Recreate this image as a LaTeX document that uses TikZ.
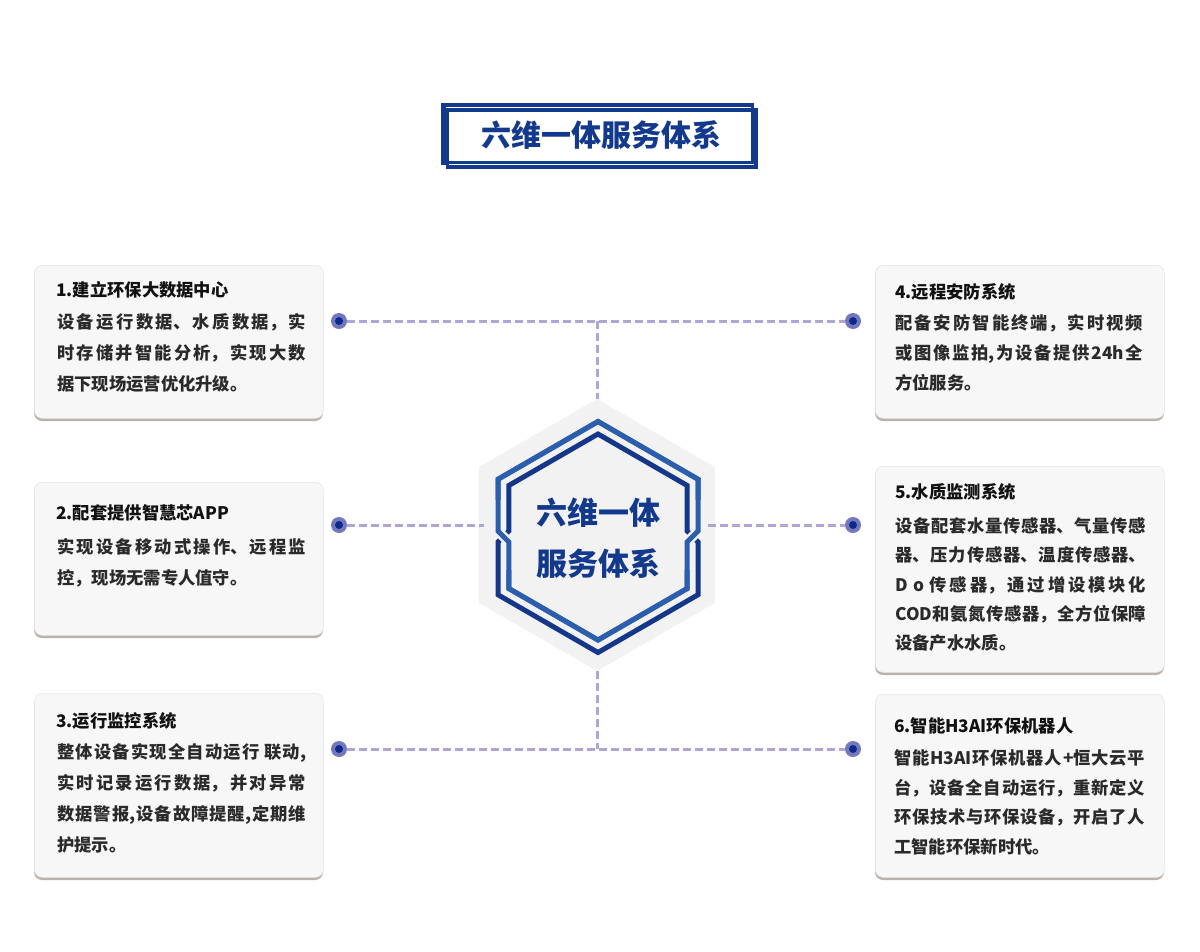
\documentclass[tikz,border=0pt]{standalone}
\usepackage{fontspec}
\setmainfont{Noto Sans CJK SC}
\XeTeXlinebreaklocale "zh"
\XeTeXlinebreakskip=0pt plus 4pt minus 0.6pt
\definecolor{navy}{HTML}{12398C}
\definecolor{hexlight}{HTML}{2B5FAE}
\definecolor{hexdark}{HTML}{14378A}
\definecolor{hexbg}{HTML}{F3F2F2}
\definecolor{cardbg}{HTML}{F7F7F7}
\definecolor{cardedge}{HTML}{E6E6E6}
\definecolor{shadowc}{HTML}{BAB2AD}
\definecolor{dashc}{HTML}{8F8CCB}
\definecolor{dotring}{HTML}{7477BD}
\definecolor{dotcore}{HTML}{0B2A8A}
\definecolor{titlec}{HTML}{111111}
\definecolor{bodyc}{HTML}{2A2A2A}
\newcommand\cardtext[3]{\parbox[t]{#1}{\fontsize{17.3pt}{#2}\selectfont #3}}
\begin{document}
\begin{tikzpicture}[x=1pt,y=-1pt,
  card/.style={fill=cardbg, draw=cardedge, line width=0.6pt, rounded corners=8pt,
    inner sep=0pt, minimum width=289pt, anchor=north west},
  cardshadow/.style={fill=shadowc, rounded corners=8pt},
  cardtitle/.style={anchor=base west, inner sep=0pt, text=titlec,
    font=\bfseries\fontsize{17.3pt}{20pt}\selectfont},
  cardbody/.style={anchor=base west, inner sep=0pt, text=bodyc, font=\bfseries},
  dot/.style={circle, fill=dotring, minimum size=16pt, inner sep=0pt,
    path picture={\fill[dotcore] (path picture bounding box.center) circle (4pt);}},
  dashline/.style={draw=dashc, draw opacity=0.75, line width=3pt, dash pattern=on 8pt off 4pt},
  frame/.style={draw=navy, line width=3.5pt},
  hexline/.style={line width=5pt, line join=miter}
]
\useasboundingbox (0,0) rectangle (1200,951);
\fill[white] (0,0) rectangle (1200,951);

% ---------- title ----------
\draw[frame, fill=white] (447.5,110) rectangle (756,167);
\draw[frame] (443,105) rectangle (752.5,162.5);
\draw[navy, line width=5pt] (443.5,103) -- (443.5,165);
\node[text=navy, font=\bfseries\fontsize{30pt}{32pt}\selectfont, inner sep=0pt] (tt) at (601,134.5) {六维一体服务体系};

% ---------- central hexagon ----------
\fill[hexbg] (597,399) -- (714.8,467) -- (714.8,603) -- (597,671) -- (479.2,603) -- (479.2,467) -- cycle;
\coordinate (ht) at (597,399);
\coordinate (hb) at (597,671);
\coordinate (hl) at (484,525);
\coordinate (hr) at (708,525);
\coordinate (jt) at (597,321);
\coordinate (jb) at (597,749);

% dark line: inner in upper half, outer in lower half
\draw[hexline, draw=hexdark] (508.8,531) -- (508.8,485.5) -- (598,434) -- (687.2,485.5) -- (687.2,531)
  -- (698,542) -- (698,594.75) -- (598,652.5) -- (498,594.75) -- (498,542) -- cycle;
% light line: outer in upper half, inner in lower half
\draw[hexline, draw=hexlight, preaction={draw=hexbg, line width=10pt}]
  (498,531) -- (498,479.25) -- (598,421.5) -- (698,479.25) -- (698,531)
  -- (687.2,542) -- (687.2,588.5) -- (598,640) -- (508.8,588.5) -- (508.8,542) -- cycle;
\draw[hexline, draw=hexlight] (498,500) -- (498,479.25) -- (598,421.5) -- (698,479.25) -- (698,500);
\draw[hexline, draw=hexlight] (687.2,570) -- (687.2,588.5) -- (598,640) -- (508.8,588.5) -- (508.8,570);

\node[text=navy, font=\bfseries\fontsize{31pt}{51pt}\selectfont, align=center, inner sep=0pt] (hx) at (598,538)
  {六维一体\\服务体系};

% ---------- cards ----------
\fill[cardshadow] (34,268.5) rectangle (323,421);
\node[card, minimum height=153pt] (b1) at (34,265) {};
\fill[cardshadow] (34,485.5) rectangle (323,638);
\node[card, minimum height=153pt] (b2) at (34,482) {};
\fill[cardshadow] (34,696.5) rectangle (323,880);
\node[card, minimum height=184pt] (b3) at (34,693) {};
\fill[cardshadow] (875,268.5) rectangle (1164,421);
\node[card, minimum height=153pt] (b4) at (875,265) {};
\fill[cardshadow] (875,469.5) rectangle (1164,675);
\node[card, minimum height=206pt] (b5) at (875,466) {};
\fill[cardshadow] (875,697.5) rectangle (1164,880);
\node[card, minimum height=183pt] (b6) at (875,694) {};

\node[cardtitle] (t1) at (56,296.5) {1.建立环保大数据中心};
\node[cardbody] (x1) at (57,328.5) {\cardtext{249pt}{31pt}{设备运行数据、水质数据，实\linebreak 时存储并智能分析，实现大数\linebreak 据下现场运营优化升级。}};

\node[cardtitle] (t2) at (56,519.5) {2.配套提供智慧芯APP};
\node[cardbody] (x2) at (57,553.5) {\cardtext{249pt}{31pt}{实现设备移动式操作、远程监\linebreak 控，现场无需专人值守。}};

\node[cardtitle] (t3) at (56,727.5) {3.运行监控系统};
\node[cardbody] (x3) at (57,758.5) {\cardtext{249pt}{31pt}{整体设备实现全自动运行 联动,\linebreak 实时记录运行数据，并对异常\linebreak 数据警报,设备故障提醒,定期维\linebreak 护提示。}};

\node[cardtitle] (t4) at (895,298) {4.远程安防系统};
\node[cardbody] (x4) at (895,329.5) {\cardtext{248pt}{30pt}{配备安防智能终端，实时视频\linebreak 或图像监拍,为设备提供24h全\linebreak 方位服务。}};

\node[cardtitle] (t5) at (895,498.5) {5.水质监测系统};
\node[cardbody] (x5) at (895,532.5) {\cardtext{251pt}{29.25pt}{设备配套水量传感器、气量传感\linebreak 器、压力传感器、温度传感器、\linebreak D o 传感器，通过增设模块化\linebreak COD和氨氮传感器，全方位保障\linebreak 设备产水水质。}};

\node[cardtitle] (t6) at (894,732.5) {6.智能H3AI环保机器人};
\node[cardbody] (x6) at (894,764.5) {\cardtext{251pt}{29.7pt}{智能H3AI环保机器人+恒大云平\linebreak 台，设备全自动运行，重新定义\linebreak 环保技术与环保设备，开启了人\linebreak 工智能环保新时代。}};

% ---------- dots and connectors ----------
\node[dot] (d1) at (339,321) {};
\node[dot] (d2) at (339,525) {};
\node[dot] (d3) at (339,749) {};
\node[dot] (d4) at (853,321) {};
\node[dot] (d5) at (853,525) {};
\node[dot] (d6) at (853,749) {};

\draw[dashline] (d1) -- (d4);
\draw[dashline] (d3) -- (d6);
\draw[dashline] (d2) -- (hl);
\draw[dashline] (hr) -- (d5);
\draw[dashline] (jt) -- (ht);
\draw[dashline] (hb) -- (jb);
\end{tikzpicture}
\end{document}
